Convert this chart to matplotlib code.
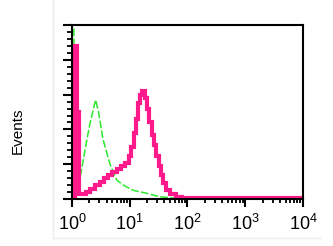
import matplotlib
matplotlib.use('Agg')
import matplotlib.pyplot as plt
from matplotlib.lines import Line2D
from matplotlib.ticker import LogLocator, NullFormatter, MultipleLocator

plt.rcParams['font.family'] = ['Liberation Sans', 'DejaVu Sans']
plt.rcParams['mathtext.fontset'] = 'custom'
plt.rcParams['mathtext.rm'] = 'Liberation Sans'

# control (isotype) histogram, green
green_x = [1.08, 1.10, 1.20, 1.36, 1.40, 1.68, 2.04, 2.57, 2.85, 3.47, 4.57,
           5.94, 7.76, 11.5, 19.5, 33.1, 60.3, 126]
green_y = [98, 60, 20, 13, 13, 28, 43, 57, 51, 34, 20,
           11, 8, 5, 3.3, 1.3, 0.5, 0.2]

# stained sample histogram, magenta (bin left edges)
pink_x = [1.0, 1.15, 1.22, 1.32, 1.51, 1.78, 2.09, 2.51, 3.02, 3.55, 4.17,
          5.01, 6.03, 7.08, 8.32, 9.55, 10.7, 11.7, 12.6, 13.8, 15.1,
          16.6, 18.2, 20.0, 21.9, 24.0, 26.3, 28.8, 31.6, 34.7, 38.0,
          42.7, 50.1, 63.1, 79.4, 100, 10000]
pink_y = [0, 88, 50, 3, 3, 4, 6, 8, 10, 12, 14, 15.7, 17, 19, 20.5, 25,
          30, 38, 46, 55, 60, 62, 58, 52, 44, 37, 31, 25, 19, 14, 9,
          5, 3, 1.3, 0.8, 0.8, 0.8]

tick_vals = [1, 10, 100, 1000, 10000]
tick_labels = [r'$\mathregular{10^{0}}$', r'$\mathregular{10^{1}}$',
               r'$\mathregular{10^{2}}$', r'$\mathregular{10^{3}}$',
               r'$\mathregular{10^{4}}$']

fig = plt.figure(figsize=(3.33, 2.46), dpi=100)
ax = fig.add_axes([0.216, 0.191, 0.694, 0.707])

ax.plot(green_x, green_y, color='#2ee82e', lw=1.1, ls=(0, (5, 1.5)))
ax.plot(pink_x, pink_y, color='#ff1a8c', lw=3.0, drawstyle='steps-post',
        solid_joinstyle='miter')

ax.set_xscale('log')
ax.set_xlim(1, 10000)
ax.set_ylim(0, 100)

ax.set_xticks(tick_vals)
ax.set_xticklabels(tick_labels, fontsize=13)
ax.xaxis.set_minor_locator(LogLocator(base=10, subs=range(2, 10)))
ax.xaxis.set_minor_formatter(NullFormatter())
ax.yaxis.set_major_locator(MultipleLocator(20))
ax.yaxis.set_minor_locator(MultipleLocator(4))
ax.set_yticklabels([])

ax.tick_params(axis='x', which='major', length=5.5, width=1.5, pad=5, direction='out')
ax.tick_params(axis='x', which='minor', length=3, width=1.3, direction='out')
ax.tick_params(axis='y', which='major', length=6.5, width=1.5, direction='out')
ax.tick_params(axis='y', which='minor', length=3.4, width=1.3, direction='out')

for s in ax.spines.values():
    s.set_linewidth(1.5)

fig.text(18 / 333, 1 - 131 / 246, 'Events', rotation=90, fontsize=11,
         ha='center', va='center')

# faint frame of the original image
fig.add_artist(Line2D([53 / 333, 53 / 333], [1.0, 1 - 238 / 246],
                      color='#ececec', lw=1))
fig.add_artist(Line2D([53 / 333, 320 / 333], [1 - 238 / 246, 1 - 238 / 246],
                      color='#ececec', lw=1))

fig.savefig('out.png', dpi=100)
